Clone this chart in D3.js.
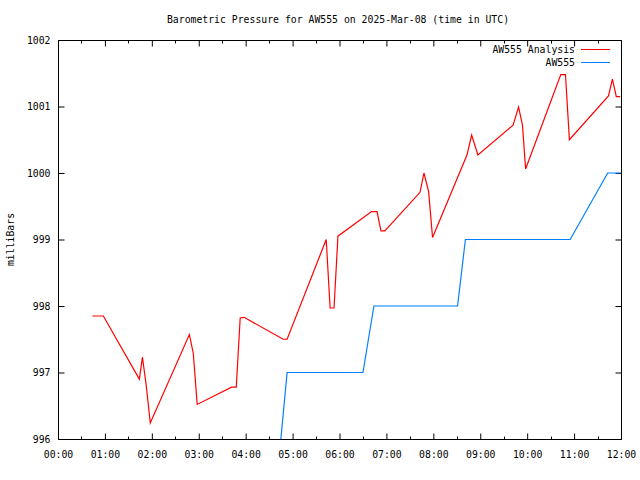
<!DOCTYPE html>
<html><head><meta charset="utf-8">
<script src="https://cdn.jsdelivr.net/npm/d3@7"></script>
<style>
body{margin:0;background:#fff;}
svg{display:block;font-family:"DejaVu Sans Mono","Liberation Mono",monospace;}
</style></head>
<body>
<script>
const title = "Barometric Pressure for AW555 on 2025-Mar-08 (time in UTC)";
const yLabel = "milliBars";
const seriesNames = ["AW555 Analysis", "AW555"];
const xTickLabels = ["00:00","01:00","02:00","03:00","04:00","05:00","06:00","07:00","08:00","09:00","10:00","11:00","12:00"];
const yTicks = [996, 997, 998, 999, 1000, 1001, 1002];

const analysisTimes = ["00:44","00:58","01:44","01:48","01:53","01:58","02:48","02:53","02:58","03:42","03:48","03:53","03:58",
  "04:48","04:53","05:43","05:48","05:53","05:58","06:41","06:48","06:53","06:58","07:43","07:48","07:54","07:59",
  "08:43","08:49","08:57","09:42","09:49","09:54","09:58","10:43","10:49","10:54","11:44","11:49","11:54","11:59"];
const analysisValues = [997.85,997.85,996.90,997.23,996.79,996.24,997.57,997.29,996.52,996.78,996.78,997.82,997.83,
  997.50,997.50,999.00,997.97,997.97,999.05,999.42,999.42,999.13,999.13,999.71,1000.00,999.72,999.03,
  1000.27,1000.57,1000.27,1000.72,1000.99,1000.72,1000.06,1001.48,1001.48,1000.50,1001.16,1001.41,1001.15,1001.15];

const obsTimes = ["04:37","04:53","06:30","06:44","08:31","08:41","10:55","11:43","12:00"];
const obsValues = [995.0,997.0,997.0,998.0,998.0,999.0,999.0,1000.0,1000.0];

const W = 640, H = 480;
const m = {left:58, top:40, right:19, bottom:41};
const pw = W - m.left - m.right, ph = H - m.top - m.bottom;

const parse = s => { const [h,mm] = s.split(":").map(Number); return new Date(Date.UTC(2025,2,8,h,mm)); };
const t0 = new Date(Date.UTC(2025,2,8,0,0)), t1 = new Date(Date.UTC(2025,2,8,12,0));

const x = d3.scaleUtc().domain([t0,t1]).range([m.left, m.left+pw]);
const y = d3.scaleLinear().domain([996,1002]).range([m.top+ph, m.top]);

const svg = d3.select("body").append("svg").attr("width",W).attr("height",H);

svg.append("text").attr("x", 338).attr("y", 23).attr("text-anchor","middle")
  .attr("font-size","9.8px").attr("fill","#000").text(title);

const hourTicks = d3.utcHour.every(1).range(t0, new Date(+t1+1));
const halfTicks = d3.utcMinute.every(30).range(t0, new Date(+t1+1)).filter(d=>d.getUTCMinutes()===30);

const fmt = d => xTickLabels[d.getUTCHours()] ;

// clip
svg.append("clipPath").attr("id","clip").append("rect")
  .attr("x",m.left).attr("y",m.top).attr("width",pw).attr("height",ph);

// bottom axis
const gB = svg.append("g").attr("transform",`translate(0,${m.top+ph+0.5})`)
  .call(d3.axisBottom(x).tickValues(hourTicks).tickFormat(fmt).tickSizeInner(-6).tickSizeOuter(0).tickPadding(12));
gB.selectAll(".minor").data(halfTicks).enter().append("line")
  .attr("x1",d=>Math.round(x(d))+0.5).attr("x2",d=>Math.round(x(d))+0.5).attr("y1",0).attr("y2",-3).attr("stroke","#000");
// top axis
const gT = svg.append("g").attr("transform",`translate(0,${m.top+0.5})`)
  .call(d3.axisTop(x).tickValues(hourTicks).tickFormat("").tickSizeInner(-6).tickSizeOuter(0));
gT.selectAll(".minor").data(halfTicks).enter().append("line")
  .attr("x1",d=>Math.round(x(d))+0.5).attr("x2",d=>Math.round(x(d))+0.5).attr("y1",0).attr("y2",3).attr("stroke","#000");
// left axis
svg.append("g").attr("transform",`translate(${m.left+0.5},0)`)
  .call(d3.axisLeft(y).tickValues(yTicks).tickFormat(d3.format("d")).tickSizeInner(-6).tickSizeOuter(0).tickPadding(8));
// right axis
svg.append("g").attr("transform",`translate(${m.left+pw+0.5},0)`)
  .call(d3.axisRight(y).tickValues(yTicks).tickFormat("").tickSizeInner(-6).tickSizeOuter(0));

svg.selectAll(".domain").remove();
svg.selectAll(".tick line").attr("stroke","#000");
svg.selectAll(".tick text").attr("font-size","9.8px").attr("fill","#000")
  .attr("font-family","'DejaVu Sans Mono','Liberation Mono',monospace");

svg.append("rect").attr("x",m.left+0.5).attr("y",m.top+0.5).attr("width",pw).attr("height",ph)
  .attr("fill","none").attr("stroke","#000").attr("stroke-width",1);

svg.append("text").attr("transform",`translate(14,${m.top+ph/2}) rotate(-90)`)
  .attr("text-anchor","middle").attr("font-size","9.8px").attr("fill","#000").text(yLabel);

const line = d3.line().x(d=>x(d[0])).y(d=>y(d[1]));
const aData = analysisTimes.map((t,i)=>[parse(t), analysisValues[i]]);
const oData = obsTimes.map((t,i)=>[parse(t), obsValues[i]]);

const gl = svg.append("g").attr("clip-path","url(#clip)");
gl.append("path").datum(oData).attr("d",line).attr("fill","none").attr("stroke","#0080ff").attr("stroke-width",1.2);
gl.append("path").datum(aData).attr("d",line).attr("fill","none").attr("stroke","#ff0000").attr("stroke-width",1.2);

// legend
const colors = ["#ff0000","#0080ff"];
seriesNames.forEach((n,i)=>{
  const ly = 49.5 + i*13;
  svg.append("text").attr("x",575).attr("y",ly+3.5).attr("text-anchor","end")
    .attr("font-size","9.8px").attr("fill","#000").text(n);
  svg.append("line").attr("x1",581).attr("x2",610).attr("y1",ly).attr("y2",ly)
    .attr("stroke",colors[i]).attr("stroke-width",1);
});
</script>
</body></html>
